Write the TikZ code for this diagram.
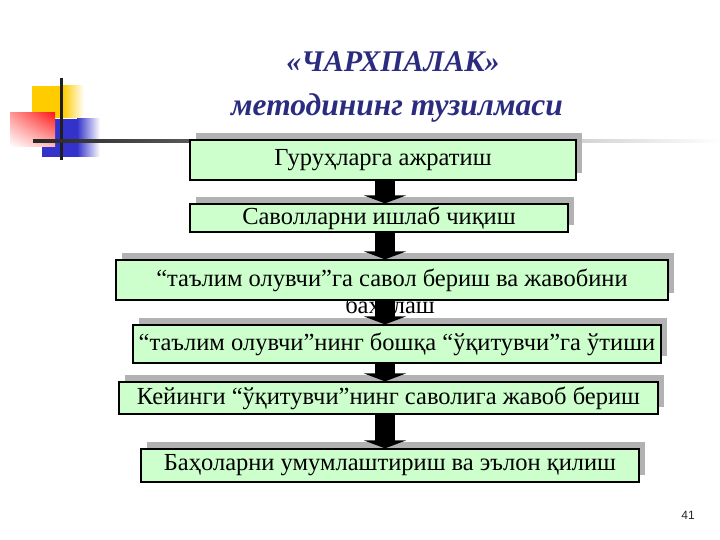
\documentclass[tikz,border=0pt]{standalone}
\usepackage{fontspec}
\setmainfont{Liberation Serif}
\newfontfamily\numfont{Liberation Sans}
\usetikzlibrary{arrows.meta,shadows,shadings}
\definecolor{boxgreen}{HTML}{CCFFCC}
\definecolor{titleblue}{HTML}{2B2B80}
\definecolor{decoyellow}{HTML}{FFCC00}
\definecolor{decoblue}{HTML}{3333CC}
\definecolor{decored}{HTML}{FF1A1A}
\tikzset{
 stepbox/.style={draw=black, line width=1.2pt, fill=boxgreen, inner sep=0pt,
   font=\fontsize{24.5}{28}\selectfont,
   drop shadow={shadow xshift=6pt, shadow yshift=7pt, fill=black!30, opacity=1, draw=none}},
 overflowtext/.style={inner sep=0pt, font=\fontsize{24.5}{28}\selectfont, anchor=base},
 bigarrow/.style={line width=20pt, -{Triangle[width=42pt,length=8pt]}, black},
 titletext/.style={text=titleblue, font=\fontsize{30}{36}\selectfont\bfseries\itshape, inner sep=0pt},
 subtitletext/.style={text=titleblue, font=\fontsize{31.5}{36}\selectfont\bfseries\itshape, inner sep=0pt},
}
\begin{document}
\begin{tikzpicture}[x=1pt,y=-1pt]
\useasboundingbox (0,0) rectangle (720,540);
% decoration
\fill[decoyellow] (32,86) rectangle (63,118);
\shade[left color=decoyellow, right color=white] (63,86) rectangle (84,118);
\fill[decoblue] (42,119) rectangle (77,157);
\shade[left color=decoblue, right color=white] (77,119) rectangle (100,157);
\shade[upper left=decored!45, upper right=decored, lower left=white, lower right=decored!30] (10,113) rectangle (55,147);
\draw[line width=3pt, black!88] (61,78) -- (61,160);
\shade[left color=black!85, right color=white] (33,139.8) rectangle (720,142.3);
% titles
\node[titletext] (t1) at (393,62) {«ЧАРХПАЛАК»};
\node[subtitletext] (t2) at (397,108) {методининг тузилмаси};
% boxes
\node[stepbox, minimum width=386pt, minimum height=40pt] (b1) at (383,160) {Гуруҳларга ажратиш};
\node[stepbox, minimum width=378pt, minimum height=28pt] (b2) at (379,218) {Саволларни ишлаб чиқиш};
\node[overflowtext] (b3x) at (390,313) {баҳолаш};
\node[stepbox, minimum width=552pt, minimum height=40pt] (b3) at (392,280) {“таълим олувчи”га савол бериш ва жавобини};
\node[stepbox, minimum width=528pt, minimum height=38pt] (b4) at (397,344) {“таълим олувчи”нинг бошқа “ўқитувчи”га ўтиши};
\node[stepbox, minimum width=539pt, minimum height=32pt] (b5) at (388.5,398) {Кейинги “ўқитувчи”нинг саволига жавоб бериш};
\node[stepbox, minimum width=498pt, minimum height=33pt] (b6) at (390,465.5) {Баҳоларни умумлаштириш ва эълон қилиш};
% arrows
\coordinate (ax) at (385,0);
\draw[bigarrow] (b1.south -| ax) -- (b2.north -| ax);
\draw[bigarrow] (b2.south -| ax) -- (b3.north -| ax);
\draw[bigarrow] (b3.south -| ax) -- (b4.north -| ax);
\draw[bigarrow] (b4.south -| ax) -- (b5.north -| ax);
\draw[bigarrow] (b5.south -| ax) -- (b6.north -| ax);
% page number
\node[font=\numfont\fontsize{12}{14}\selectfont, text=black!85, inner sep=0pt] (pg) at (688,515) {41};
\end{tikzpicture}
\end{document}
